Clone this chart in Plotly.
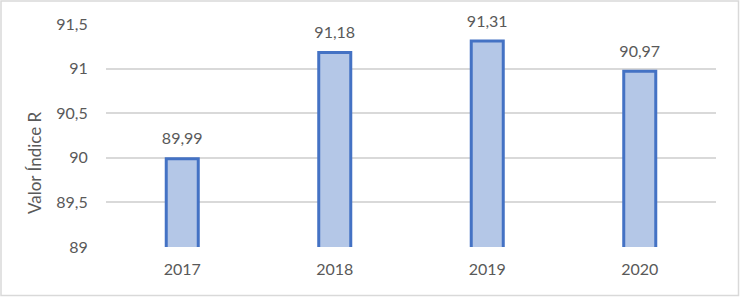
import plotly.graph_objects as go

years = ["2017", "2018", "2019", "2020"]
values = [89.99, 91.18, 91.31, 90.97]
y_ticks = [89, 89.5, 90, 90.5, 91, 91.5]
y_title = "Valor Índice R"

FONT = "Lato"
TXT = "#595959"

L, R, T, B = 106, 24, 24, 50
W, H = 740, 297
pw, ph = W - L - R, H - T - B

labels = [f"{v:.2f}".replace(".", ",") for v in values]

fig = go.Figure()
fig.add_trace(go.Bar(
    x=years, y=values, width=0.21,
    marker=dict(color="#B4C7E7", line=dict(color="#4472C4", width=3)),
    hoverinfo="skip",
))
fig.add_trace(go.Scatter(
    x=years, y=values, mode="markers+text", text=labels,
    textposition="top center",
    marker=dict(size=15, color="rgba(0,0,0,0)"),
    textfont=dict(family=FONT, size=16, color=TXT),
    hoverinfo="skip", cliponaxis=False,
))

# y-axis title (offset as in the reference)
fig.add_annotation(xref="paper", yref="paper",
                   x=(34 - L) / pw, y=(H - B - 163) / ph,
                   text=y_title, textangle=-90, showarrow=False,
                   xanchor="center", yanchor="middle",
                   font=dict(family=FONT, size=17, color=TXT))

# outer frame
fig.add_shape(type="rect", xref="paper", yref="paper",
              x0=(1 - L) / pw, x1=(W - 1.5 - L) / pw,
              y0=-(B - 1.5) / ph, y1=(H - B - 1) / ph,
              line=dict(color="#D9D9D9", width=1.5), fillcolor="rgba(0,0,0,0)",
              layer="below")

fig.update_layout(
    width=W, height=H,
    margin=dict(l=L, r=R, t=T, b=B),
    paper_bgcolor="white", plot_bgcolor="white",
    separators=",.",
    showlegend=False,
    font=dict(family=FONT, size=16, color=TXT),
    xaxis=dict(type="category", range=[-0.5, 3.5], showgrid=False, showline=False,
               zeroline=False, ticks="outside", ticklen=8, tickcolor="rgba(0,0,0,0)",
               tickfont=dict(family=FONT, size=16, color=TXT)),
    yaxis=dict(range=[89, 91.5], tickvals=y_ticks, showgrid=True,
               gridcolor="#D9D9D9", gridwidth=1.5, zeroline=False, showline=False,
               ticks="outside", ticklen=14, tickcolor="rgba(0,0,0,0)",
               tickfont=dict(family=FONT, size=16, color=TXT)),
)

fig.write_html("out.html")
